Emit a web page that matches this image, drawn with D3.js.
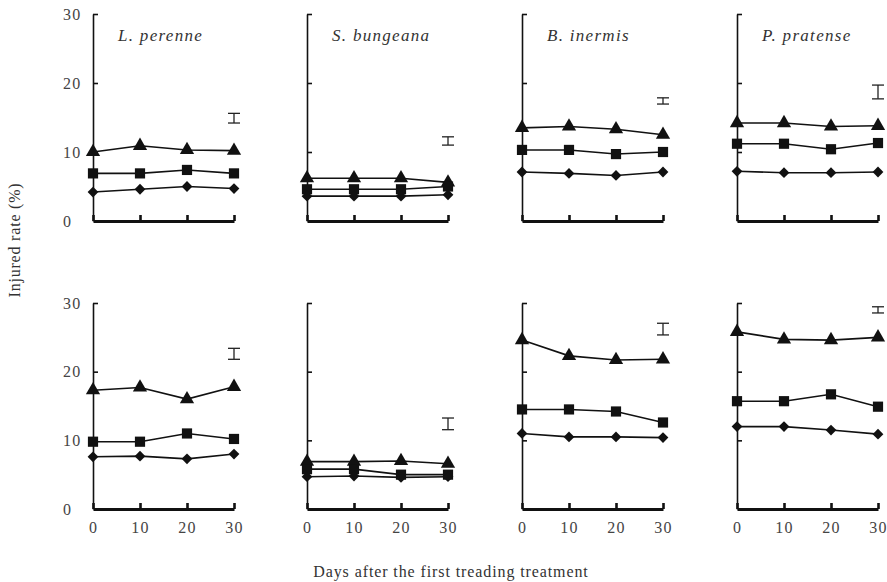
<!DOCTYPE html>
<html>
<head>
<meta charset="utf-8">
<script src="https://cdn.jsdelivr.net/npm/d3@7"></script>
<style>
  body { margin: 0; background: #fff; }
  svg text { font-family: "Liberation Serif", "Times New Roman", "DejaVu Serif", serif; fill: #333; }
</style>
</head>
<body>
<div id="main"></div>
<script>
(function(){

  const days = [0, 10, 20, 30]
  const species = ["L. perenne", "S. bungeana", "B. inermis", "P. pratense"]
  const yTicks = [0, 10, 20, 30]

  // upper row of panels
  const upperTriangle = [
    [10.0, 10.9, 10.3, 10.2],
    [6.2, 6.2, 6.2, 5.6],
    [13.5, 13.7, 13.3, 12.5],
    [14.2, 14.2, 13.7, 13.8]
  ]
  const upperSquare = [
    [6.9, 6.9, 7.4, 6.9],
    [4.6, 4.6, 4.6, 5.0],
    [10.3, 10.3, 9.7, 10.0],
    [11.2, 11.2, 10.4, 11.3]
  ]
  const upperDiamond = [
    [4.2, 4.6, 5.0, 4.7],
    [3.6, 3.6, 3.6, 3.8],
    [7.1, 6.9, 6.6, 7.1],
    [7.2, 7.0, 7.0, 7.1]
  ]
  // LSD bar: [centre, half length]
  const upperLsd = [[14.9, 0.7], [11.6, 0.6], [17.4, 0.45], [18.7, 1.0]]

  // lower row of panels
  const lowerTriangle = [
    [17.3, 17.7, 16.0, 17.8],
    [6.9, 6.9, 7.0, 6.6],
    [24.6, 22.3, 21.7, 21.8],
    [25.8, 24.7, 24.6, 25.0]
  ]
  const lowerSquare = [
    [9.8, 9.8, 11.0, 10.2],
    [5.8, 5.8, 5.0, 5.0],
    [14.5, 14.5, 14.2, 12.6],
    [15.7, 15.7, 16.7, 14.9]
  ]
  const lowerDiamond = [
    [7.6, 7.7, 7.3, 8.0],
    [4.7, 4.8, 4.6, 4.7],
    [11.0, 10.5, 10.5, 10.4],
    [12.0, 12.0, 11.5, 10.9]
  ]
  const lowerLsd = [[22.6, 0.8], [12.4, 0.85], [26.2, 0.85], [29.0, 0.45]]

  const width = 887
  const height = 582
  const colX = [93, 307, 522, 737]
  const plotW = 141
  const rows = [
    {top: 14, bottom: 221, tri: upperTriangle, sq: upperSquare, dia: upperDiamond, lsd: upperLsd, labels: false},
    {top: 303, bottom: 509, tri: lowerTriangle, sq: lowerSquare, dia: lowerDiamond, lsd: lowerLsd, labels: true}
  ]

  const svg = d3.select("#main").append("svg")
    .attr("width", width)
    .attr("height", height)

  const series = [
    {key: "tri", symbol: d3.symbol().type(d3.symbolTriangle).size(88), rotate: 0},
    {key: "sq", symbol: d3.symbol().type(d3.symbolSquare).size(104), rotate: 0},
    {key: "dia", symbol: d3.symbol().type(d3.symbolSquare).size(58), rotate: 45}
  ]

  rows.forEach((row, ri) => {
    colX.forEach((x0, ci) => {
      const xScale = d3.scaleLinear()
        .domain([0, 30])
        .range([x0, x0 + plotW])

      const yScale = d3.scaleLinear()
        .domain([0, 30])
        .range([row.bottom, row.top])

      const g = svg.append("g")

      // y axis, ticks pointing inward
      const yAxis = d3.axisRight(yScale)
        .tickValues(yTicks.slice(1))
        .tickSize(5)
        .tickSizeOuter(0)
        .tickFormat("")

      const ya = g.append("g")
        .attr("transform", `translate(${x0},0)`)
        .call(yAxis)
      ya.select(".domain").attr("stroke", "#111").attr("stroke-width", 1.6)
      ya.selectAll(".tick line").attr("stroke", "#111").attr("stroke-width", 1.6)

      // x axis, heavy baseline with upward ticks
      const xAxis = d3.axisBottom(xScale)
        .tickValues(days)
        .tickSize(-6)
        .tickSizeOuter(0)
        .tickPadding(13)
        .tickFormat(row.labels ? d3.format("d") : "")

      const xa = g.append("g")
        .attr("transform", `translate(0,${row.bottom})`)
        .call(xAxis)
      xa.select(".domain").attr("stroke", "#111").attr("stroke-width", 3.2)
      xa.selectAll(".tick line").attr("stroke", "#111").attr("stroke-width", 2.6)
      xa.selectAll(".tick text")
        .attr("font-size", 16)
        .attr("letter-spacing", 1.2)
        .style("fill", "#444")

      // y labels only on the left column
      if (ci === 0) {
        g.selectAll(".ylab")
          .data(yTicks)
          .join("text")
          .attr("x", 63)
          .attr("y", d => yScale(d))
          .attr("dy", "0.35em")
          .attr("font-size", 16)
          .attr("letter-spacing", 1.2)
          .style("fill", "#444")
          .text(d => d)
      }

      // species name only on the upper row
      if (ri === 0) {
        g.append("text")
          .attr("x", x0 + 25)
          .attr("y", 41)
          .attr("font-size", 17)
          .attr("font-style", "italic")
          .attr("letter-spacing", 1.3)
          .text(species[ci])
      }

      const line = d3.line()
        .x((d, i) => xScale(days[i]))
        .y(d => yScale(d))

      series.forEach(s => {
        const vals = row[s.key][ci]
        g.append("path")
          .datum(vals)
          .attr("fill", "none")
          .attr("stroke", "#111")
          .attr("stroke-width", 1.6)
          .attr("d", line)

        g.selectAll(null)
          .data(vals)
          .join("path")
          .attr("transform", (d, i) => `translate(${xScale(days[i])},${yScale(d)}) rotate(${s.rotate})`)
          .attr("d", s.symbol)
          .attr("fill", "#111")
      })

      // LSD bar
      const [c, h] = row.lsd[ci]
      const bx = xScale(30)
      const bar = g.append("g")
        .attr("stroke", "#222")
        .attr("stroke-width", 1.3)
      bar.append("line")
        .attr("x1", bx).attr("x2", bx)
        .attr("y1", yScale(c + h)).attr("y2", yScale(c - h))
      ;[c + h, c - h].forEach(v => {
        bar.append("line")
          .attr("x1", bx - 6).attr("x2", bx + 6)
          .attr("y1", yScale(v)).attr("y2", yScale(v))
      })
    })
  })

  svg.append("text")
    .attr("x", 451)
    .attr("y", 577)
    .attr("text-anchor", "middle")
    .attr("font-size", 16)
    .attr("letter-spacing", 0.9)
    .text("Days after the first treading treatment")

  svg.append("text")
    .attr("transform", "translate(20,240) rotate(-90)")
    .attr("text-anchor", "middle")
    .attr("font-size", 16)
    .attr("letter-spacing", 0.8)
    .text("Injured rate (%)")
}())
</script>
</body>
</html>
